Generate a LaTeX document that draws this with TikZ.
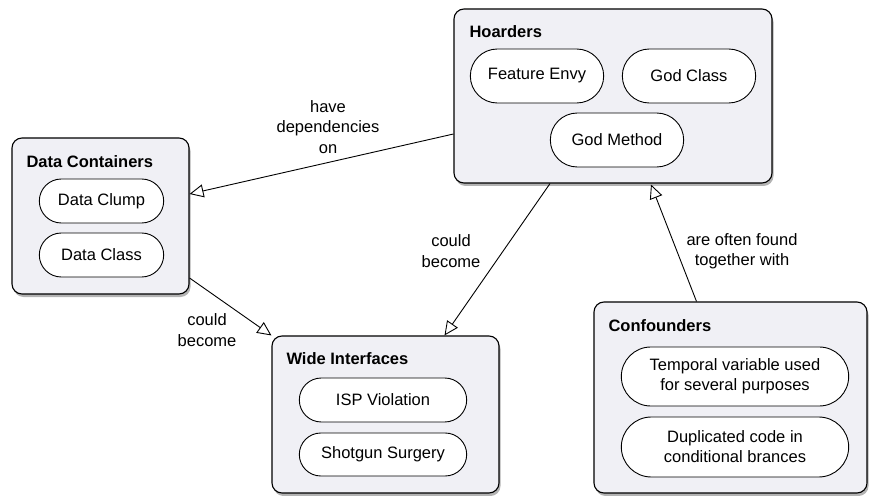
\documentclass[tikz,border=0pt]{standalone}
\usepackage{fontspec}
\setmainfont{Liberation Sans}
\usetikzlibrary{arrows.meta,shapes.misc,shadows,calc}

\definecolor{boxfill}{HTML}{F0F0F5}

\tikzset{
    group/.style={draw, line width=1.1bp, rounded corners=10bp, fill=boxfill,
        drop shadow={shadow xshift=1.5bp, shadow yshift=-3bp, opacity=0.6}},
    item/.style={draw, line width=0.9bp, rounded rectangle, fill=white, align=center,
        font=\fontsize{16.5bp}{20bp}\selectfont},
    title/.style={anchor=west, font=\fontsize{16.5bp}{20bp}\selectfont\bfseries},
    rellabel/.style={align=center, font=\fontsize{16.5bp}{20.5bp}\selectfont},
    rel/.style={-{Triangle[open, length=14bp, width=13bp]}, line width=0.9bp}
}

\begin{document}
\begin{tikzpicture}[x=1bp, y=-1bp]
    \useasboundingbox (0, 0) rectangle (870, 496);

    % groups
    \node[group, minimum width=318bp, minimum height=174bp] (hoard) at (613, 96){};
    \node[group, minimum width=177bp, minimum height=156bp] (cont) at (100.5, 216){};
    \node[group, minimum width=227bp, minimum height=157bp] (wide) at (385.5, 414.5){};
    \node[group, minimum width=273bp, minimum height=191bp] (conf) at (730.5, 397.5){};

    \node[title] (hoardT) at (466, 32){Hoarders};
    \node[title] (contT) at (23, 162){Data Containers};
    \node[title] (wideT) at (283, 359){Wide Interfaces};
    \node[title] (confT) at (605, 326){Confounders};

    % smells
    \node[item, minimum width=140bp, minimum height=54bp] (envy) at (537, 76){Feature Envy};
    \node[item, minimum width=140bp, minimum height=54bp] (godclass) at (689, 76){God Class};
    \node[item, minimum width=140bp, minimum height=54bp] (godmethod) at (617, 140){God Method};

    \node[item, minimum width=131bp, minimum height=44bp] (clump) at (101.5, 201){Data Clump};
    \node[item, minimum width=131bp, minimum height=44bp] (dataclass) at (101.5, 255){Data Class};

    \node[item, minimum width=174bp, minimum height=44bp] (isp) at (383, 400){ISP Violation};
    \node[item, minimum width=174bp, minimum height=43bp] (shotgun) at (383, 454.5){Shotgun Surgery};

    \node[item, minimum width=234bp, minimum height=59bp] (temp) at (735, 376.5){Temporal variable used\\for several purposes};
    \node[item, minimum width=234bp, minimum height=60bp] (dup) at (735, 447){Duplicated code in\\conditional brances};

    % relations
    \draw[rel] ($(hoard.west)+(0, 38)$) -- ($(cont.east)+(0, -22)$);
    \draw[rel] ($(cont.east)+(0, 62)$) -- ($(wide.north west)+(0, 0)$);
    \draw[rel] ($(hoard.south)+(-63, 0)$) -- ($(wide.north)+(59, 0)$);
    \draw[rel] ($(conf.north)+(-34, 0)$) -- ($(hoard.south)+(38, 1)$);

    \node[rellabel] (depL) at (328, 127){have\\dependencies\\on};
    \node[rellabel] (contL) at (207, 330){could\\become};
    \node[rellabel] (hoardL) at (451, 251){could\\become};
    \node[rellabel] (confL) at (742, 251){are often found\\together with};
\end{tikzpicture}
\end{document}
